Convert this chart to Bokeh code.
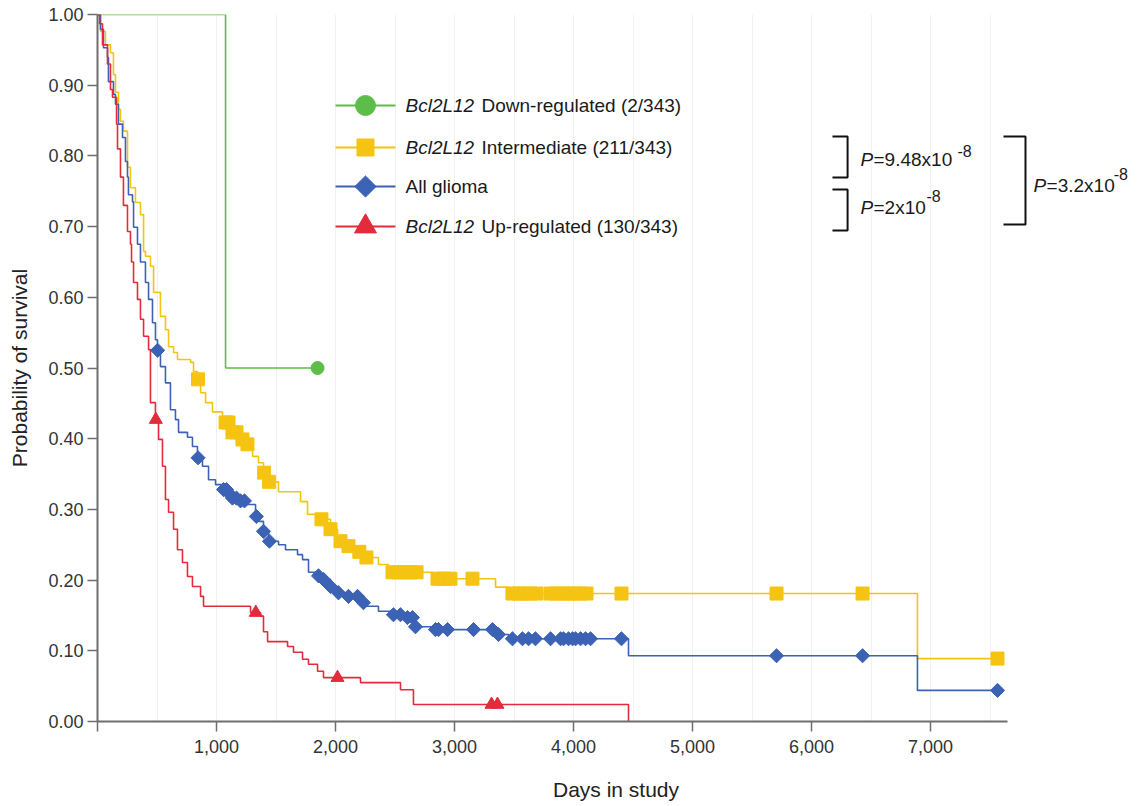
import numpy as np
from bokeh.plotting import figure
from bokeh.models import FixedTicker, Range1d, NumeralTickFormatter
from bokeh.embed import file_html
from bokeh.resources import INLINE
from bokeh.core.properties import value

# ---------------- data ----------------
green_times = [1076]
green_surv = [0.5]
green_censor = [1849]

yellow_times = [25, 67, 109, 134, 151, 176, 193, 218, 252, 277, 319, 361, 387, 403, 445, 471, 529, 571, 597, 639,
                672, 782, 807, 840, 866, 908, 966, 1050, 1118, 1202, 1260, 1303, 1353, 1395, 1437, 1521, 1706, 1765,
                1857, 1958, 2017, 2109, 2193, 2252, 2361, 2445, 2815, 3345, 3454, 6890]
yellow_surv = [0.976, 0.957, 0.946, 0.915, 0.890, 0.866, 0.849, 0.835, 0.784, 0.755, 0.734, 0.717, 0.665, 0.658,
               0.644, 0.607, 0.573, 0.554, 0.530, 0.522, 0.512, 0.508, 0.495, 0.484, 0.465, 0.451, 0.438, 0.423,
               0.409, 0.399, 0.392, 0.375, 0.366, 0.352, 0.339, 0.325, 0.311, 0.293, 0.286, 0.272, 0.255, 0.248,
               0.240, 0.232, 0.222, 0.211, 0.202, 0.190, 0.181, 0.089]
yellow_censor = [845, 1076, 1101, 1134, 1168, 1218, 1260, 1400, 1442, 1882, 1958, 2042, 2109, 2200, 2260, 2479, 2529,
                 2580, 2630, 2681, 2857, 2908, 2966, 3151, 3487, 3538, 3588, 3638, 3689, 3807, 3857, 3908, 3958, 4008,
                 4059, 4109, 4403, 5706, 6429, 7563]

blue_times = [25, 50, 84, 92, 134, 151, 176, 210, 235, 252, 260, 294, 303, 336, 361, 403, 429, 462, 487, 504, 529, 571,
              613, 655, 681, 756, 798, 840, 882, 933, 992, 1050, 1101, 1134, 1202, 1244, 1328, 1353, 1395, 1437, 1521,
              1580, 1681, 1723, 1773, 1857, 1899, 1958, 2025, 2109, 2210, 2252, 2361, 2487, 2588, 2672, 2815, 3361,
              3454, 4462, 6890]
blue_surv = [0.979, 0.953, 0.939, 0.905, 0.887, 0.873, 0.845, 0.826, 0.792, 0.770, 0.745, 0.735, 0.699, 0.675, 0.650,
             0.621, 0.597, 0.564, 0.540, 0.525, 0.502, 0.479, 0.441, 0.427, 0.409, 0.402, 0.389, 0.373, 0.361, 0.342,
             0.335, 0.328, 0.322, 0.316, 0.312, 0.307, 0.290, 0.283, 0.269, 0.255, 0.250, 0.243, 0.236, 0.229, 0.211,
             0.206, 0.201, 0.191, 0.182, 0.177, 0.168, 0.163, 0.156, 0.151, 0.147, 0.134, 0.130, 0.123, 0.117, 0.093,
             0.044]
blue_censor = [505, 845, 1059, 1084, 1109, 1134, 1168, 1202, 1235, 1335, 1395, 1445, 1857, 1899, 1958, 2025, 2109,
               2185, 2235, 2487, 2546, 2605, 2647, 2672, 2840, 2866, 2941, 3160, 3319, 3370, 3487, 3571, 3622, 3680,
               3807, 3891, 3916, 3958, 3992, 4017, 4059, 4101, 4143, 4403, 5706, 6429, 7563]

red_times = [17, 42, 84, 109, 126, 160, 168, 193, 218, 252, 277, 286, 303, 336, 361, 387, 429, 445, 487, 513, 546, 571,
             597, 639, 672, 714, 756, 798, 866, 891, 1286, 1370, 1395, 1429, 1597, 1647, 1723, 1773, 1849, 1899, 2210,
             2546, 2655, 4462]
red_surv = [0.987, 0.957, 0.930, 0.894, 0.883, 0.845, 0.810, 0.770, 0.730, 0.693, 0.675, 0.650, 0.621, 0.597, 0.569,
            0.545, 0.526, 0.451, 0.427, 0.399, 0.361, 0.314, 0.296, 0.272, 0.243, 0.225, 0.205, 0.191, 0.177, 0.163,
            0.154, 0.149, 0.127, 0.113, 0.106, 0.098, 0.088, 0.081, 0.071, 0.062, 0.055, 0.045, 0.024, 0.0]
red_censor = [490, 1330, 2017, 3311, 3361]

legend_gene = "Bcl2L12"
legend_rest = ["Down-regulated (2/343)", "Intermediate (211/343)", "All glioma", "Up-regulated (130/343)"]
p_values = ["=9.48x10", "=2x10", "=3.2x10"]
p_exponent = "-8"

xtick_values = [0, 1000, 2000, 3000, 4000, 5000, 6000, 7000]
xtick_labels = ["", "1,000", "2,000", "3,000", "4,000", "5,000", "6,000", "7,000"]
ytick_values = [0.0, 0.1, 0.2, 0.3, 0.4, 0.5, 0.6, 0.7, 0.8, 0.9, 1.0]

GREEN, YELLOW, BLUE, RED = "#5cbd48", "#f5c311", "#3b62b5", "#e32b3b"
FONT = value("Liberation Sans")

# ---------------- figure ----------------
p = figure(frame_width=1037, frame_height=707, output_backend="svg", toolbar_location=None,
           x_range=Range1d(0, 8714), y_range=Range1d(0, 1.0),
           min_border_left=97, min_border_right=0, min_border_top=14, min_border_bottom=74)
p.outline_line_color = None
p.background_fill_color = "white"
p.border_fill_color = "white"

p.ygrid.visible = False
p.xgrid.ticker = FixedTicker(ticks=list(range(500, 7650, 500)))
p.xgrid.grid_line_color = "#f1f1f1"
p.xgrid.bounds = (0, 7650)

for ax in (p.xaxis[0], p.yaxis[0]):
    ax.axis_line_color = "#6e6e6e"
    ax.axis_line_width = 2
    ax.major_tick_line_color = "#6e6e6e"
    ax.major_tick_line_width = 1.5
    ax.major_tick_out = 10
    ax.major_tick_in = 0
    ax.minor_tick_out = 0
    ax.minor_tick_in = 0
    ax.major_label_text_font = "Liberation Sans"
    ax.major_label_text_font_size = "18px"
    ax.major_label_text_color = "#333333"
    ax.axis_label_text_font = "Liberation Sans"
    ax.axis_label_text_font_size = "21px"
    ax.axis_label_text_font_style = "normal"
    ax.axis_label_text_color = "#222222"

p.xaxis.bounds = (0, 7650)
p.xaxis.ticker = FixedTicker(ticks=xtick_values)
p.xaxis.major_label_overrides = {v: l for v, l in zip(xtick_values, xtick_labels)}
p.xaxis.axis_label = "Days in study"
p.xaxis.major_label_standoff = 8
p.xaxis.axis_label_standoff = 22

p.yaxis.ticker = FixedTicker(ticks=ytick_values)
p.yaxis.formatter = NumeralTickFormatter(format="0.00")
p.yaxis.axis_label = "Probability of survival"
p.yaxis.major_label_standoff = 4
p.yaxis.axis_label_standoff = 14


def km_xy(times, surv, end=None):
    xs = [0] + list(times)
    ys = [1.0] + list(surv)
    if end is not None and end > xs[-1]:
        xs.append(end)
        ys.append(ys[-1])
    return xs, ys


def km_at(times, surv, t):
    arr = np.array(times)
    idx = np.searchsorted(arr, np.array(t), side="right") - 1
    s = np.array([1.0] + list(surv))
    return list(s[idx + 1])


# (times, surv, censor, colour, marker, size, angle, legend size)
curves = [
    (green_times, green_surv, green_censor, GREEN, "circle", 13, 0.0, 20),
    (yellow_times, yellow_surv, yellow_censor, YELLOW, "square", 13, 0.0, 17),
    (blue_times, blue_surv, blue_censor, BLUE, "square", 10, np.pi / 4, 15),
    (red_times, red_surv, red_censor, RED, "triangle", 13, 0.0, 22),
]

for times, surv, cens, col, mk, sz, ang, lsz in curves:
    xs, ys = km_xy(times, surv, max(cens))
    p.step(xs, ys, mode="after", line_color=col, line_width=1.6)
for times, surv, cens, col, mk, sz, ang, lsz in curves:
    p.scatter(cens, km_at(times, surv, cens), marker=mk, size=sz, angle=ang,
              fill_color=col, line_color=col)

# ---------------- legend (drawn) ----------------
leg_y = [0.8713, 0.8119, 0.7567, 0.7001]
for i, (times, surv, cens, col, mk, sz, ang, lsz) in enumerate(curves):
    p.line([2000, 2504], [leg_y[i], leg_y[i]], line_color=col, line_width=2)
    p.scatter([2252], [leg_y[i]], marker=mk, size=lsz, angle=ang, fill_color=col, line_color=col)

gene_rows = [0, 1, 3]
p.text([2588] * 3, [leg_y[i] for i in gene_rows], text=[legend_gene] * 3,
       text_font=FONT, text_font_size="19px", text_font_style="italic",
       text_baseline="middle", text_color="#1a1a1a")
p.text([3227, 3227, 2588, 3227], leg_y, text=legend_rest,
       text_font=FONT, text_font_size="19px", text_baseline="middle", text_color="#1a1a1a")

# ---------------- P value brackets ----------------
br_xs = [[6176, 6303, 6303, 6176], [6176, 6303, 6303, 6176], [7613, 7798, 7798, 7613]]
br_ys = [[0.8275, 0.8275, 0.7694, 0.7694], [0.7525, 0.7525, 0.6945, 0.6945], [0.8275, 0.8275, 0.7030, 0.7030]]
p.multi_line(br_xs, br_ys, line_color="#111111", line_width=2)

pv_x = [6412, 6412, 7866]
pv_rest_x = [6521, 6521, 7975]
pv_y = [0.7949, 0.7270, 0.7581]
exp_x = [7227, 6966, 8540]
exp_y = [0.8076, 0.7426, 0.7750]
p.text(pv_x, pv_y, text=["P"] * 3, text_font=FONT, text_font_size="19px", text_font_style="italic",
       text_baseline="middle", text_color="#1a1a1a")
p.text(pv_rest_x, pv_y, text=p_values, text_font=FONT, text_font_size="19px",
       text_baseline="middle", text_color="#1a1a1a")
p.text(exp_x, exp_y, text=[p_exponent] * 3, text_font=FONT, text_font_size="16px",
       text_baseline="middle", text_color="#1a1a1a")

open("out.html", "w").write(file_html(p, INLINE))
